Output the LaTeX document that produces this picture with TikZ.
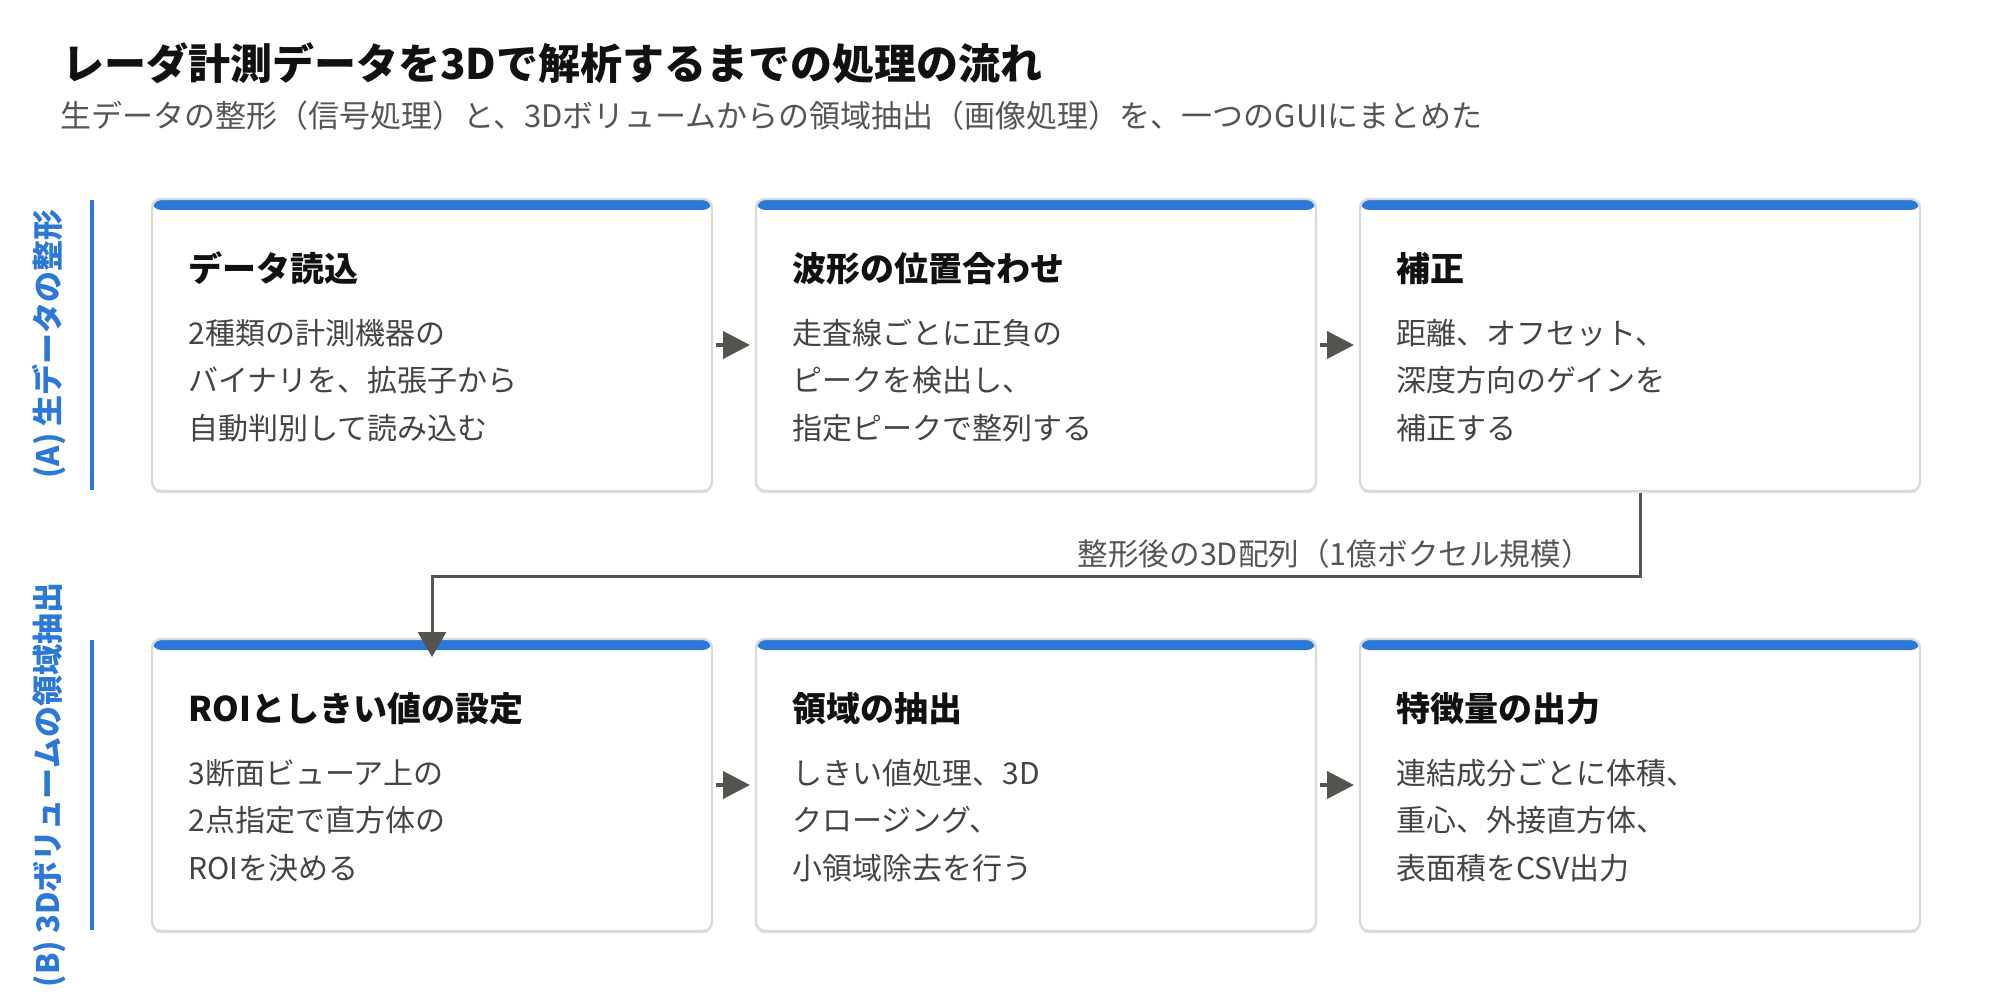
\documentclass[tikz,border=0pt]{standalone}
\usepackage{fontspec}
\setmainfont{Noto Sans CJK JP}
\usetikzlibrary{arrows.meta,shadows,calc}
\definecolor{barblue}{HTML}{2B78D6}
\definecolor{cardborder}{HTML}{DADAD5}
\definecolor{shadowgray}{HTML}{E6E6E2}
\definecolor{titleblack}{HTML}{111111}
\definecolor{bodygray}{HTML}{444444}
\definecolor{subgray}{HTML}{555555}
\definecolor{arrowgray}{HTML}{55544F}
\tikzset{
  card/.style={draw=cardborder, line width=1.2pt, fill=white, rounded corners=4.5pt,
    minimum width=280pt, minimum height=146pt, anchor=north west, inner sep=0pt, outer sep=0pt,
    drop shadow={shadow xshift=0pt, shadow yshift=-1.2pt, fill=shadowgray, opacity=1},
    path picture={\fill[barblue] (path picture bounding box.north west) rectangle ([yshift=-5.5pt]path picture bounding box.north east);}},
  ctitle/.style={font=\fontsize{17pt}{20pt}\selectfont\bfseries, text=titleblack, inner sep=0pt, anchor=base west},
  cbody/.style={font=\fontsize{15pt}{18pt}\selectfont, text=bodygray, inner sep=0pt, anchor=base west},
  flow/.style={draw=arrowgray, line width=2pt, -{Triangle[length=13.5pt,width=13.5pt]}},
  bigflow/.style={draw=arrowgray, line width=1.5pt, -{Triangle[length=12.5pt,width=14pt]}},
  seclabel/.style={font=\fontsize{15.5pt}{18pt}\selectfont\bfseries, text=barblue, inner sep=0pt, rotate=90},
  secline/.style={draw=barblue, line width=1.75pt},
  flowlabel/.style={font=\fontsize{15.3pt}{18pt}\selectfont, text=subgray, inner sep=0pt, anchor=base east},
}
\newcommand{\mycard}[7]{%
  \node[card] (#1) at (#2,#3) {};
  \node[ctitle] (#1-t) at ($(#2,#3)+(36,82)$) {#4};
  \node[cbody] (#1-a) at ($(#2,#3)+(36,145.5)$) {#5};
  \node[cbody] (#1-b) at ($(#2,#3)+(36,192.5)$) {#6};
  \node[cbody] (#1-c) at ($(#2,#3)+(36,240.5)$) {#7};
}
\begin{document}
\begin{tikzpicture}[x=0.5pt,y=-0.5pt]
\fill[white] (0,0) rectangle (2000,1000);
\useasboundingbox (0,0) rectangle (2000,1000);

\node[font=\fontsize{21pt}{24pt}\selectfont\bfseries, text=titleblack, inner sep=0pt, anchor=base west] (title) at (62,80) {レーダ計測データを3Dで解析するまでの処理の流れ};
\node[font=\fontsize{15.5pt}{18pt}\selectfont, text=subgray, inner sep=0pt, anchor=base west] (subtitle) at (60,128) {生データの整形（信号処理）と、3Dボリュームからの領域抽出（画像処理）を、一つのGUIにまとめた};

% section labels
\node[seclabel] (secA) at (49,344) {(A) 生データの整形};
\draw[secline] (92,200) -- (92,490);
\node[seclabel] (secB) at (49,785) {(B) 3Dボリュームの領域抽出};
\draw[secline] (92,640) -- (92,930);

% cards
\mycard{b1}{152}{199}{データ読込}{2種類の計測機器の}{バイナリを、拡張子から}{自動判別して読み込む}
\mycard{b2}{756}{199}{波形の位置合わせ}{走査線ごとに正負の}{ピークを検出し、}{指定ピークで整列する}
\mycard{b3}{1360}{199}{補正}{距離、オフセット、}{深度方向のゲインを}{補正する}
\mycard{b4}{152}{639}{ROIとしきい値の設定}{3断面ビューア上の}{2点指定で直方体の}{ROIを決める}
\mycard{b5}{756}{639}{領域の抽出}{しきい値処理、3D}{クロージング、}{小領域除去を行う}
\mycard{b6}{1360}{639}{特徴量の出力}{連結成分ごとに体積、}{重心、外接直方体、}{表面積をCSV出力}

% arrows
\draw[flow] ([xshift=2pt]b1.east) -- ([xshift=-3pt]b2.west);
\draw[flow] ([xshift=2pt]b2.east) -- ([xshift=-3pt]b3.west);
\draw[flow] ([xshift=2pt]b4.east) -- ([xshift=-3pt]b5.west);
\draw[flow] ([xshift=2pt]b5.east) -- ([xshift=-3pt]b6.west);

\coordinate (lvl) at (0,576);
\draw[bigflow] ([yshift=-1pt]b3.south) |- (lvl -| b4.north) -- ([yshift=-9pt]b4.north);
\node[flowlabel] (flab) at (1592,565) {整形後の3D配列（1億ボクセル規模）};
\end{tikzpicture}
\end{document}
